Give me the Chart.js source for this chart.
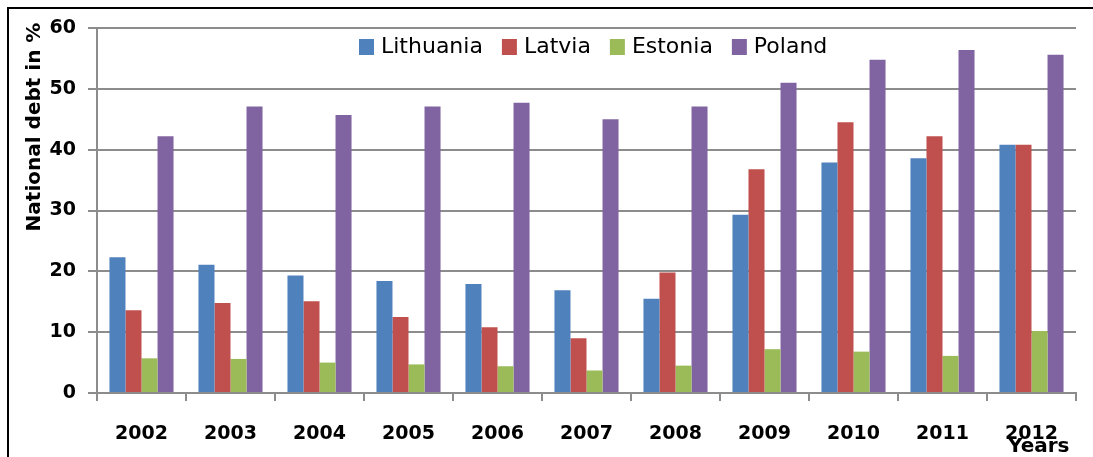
<!DOCTYPE html>
<html>
<head>
<meta charset="utf-8">
<script src="https://cdn.jsdelivr.net/npm/chart.js@4.4.0/dist/chart.umd.min.js"></script>
<style>
  html, body { margin: 0; padding: 0; background: #fff; }
  #wrap { width: 1093px; height: 457px; position: relative; }
</style>
</head>
<body>
<div id="wrap"><canvas id="chart"></canvas></div>
<script>
const years = ["2002", "2003", "2004", "2005", "2006", "2007", "2008", "2009", "2010", "2011", "2012"];
const lithuania = [22.3, 21.1, 19.3, 18.4, 17.9, 16.9, 15.5, 29.3, 37.9, 38.6, 40.8];
const latvia = [13.6, 14.8, 15.1, 12.5, 10.8, 9.0, 19.8, 36.8, 44.5, 42.2, 40.8];
const estonia = [5.7, 5.6, 5.0, 4.7, 4.4, 3.7, 4.5, 7.2, 6.8, 6.1, 10.2];
const poland = [42.2, 47.1, 45.7, 47.1, 47.7, 45.0, 47.1, 51.0, 54.8, 56.4, 55.6];
const yMin = 0, yMax = 60, yStep = 10;

const GRID = "#8c8c8c";

// frame, axis title, "Years" and the legend drawn inside the plot area
const decorations = {
  id: "decorations",
  afterDraw(chart) {
    const ctx = chart.ctx;
    ctx.save();
    ctx.strokeStyle = "#000";
    ctx.lineWidth = 2;
    ctx.beginPath();
    ctx.moveTo(8, 457);
    ctx.lineTo(8, 8);
    ctx.lineTo(1093, 8);
    ctx.stroke();

    ctx.fillStyle = "#000";
    ctx.font = "bold 20px 'DejaVu Sans'";
    ctx.save();
    ctx.translate(40, 127);
    ctx.rotate(-Math.PI / 2);
    ctx.textAlign = "center";
    ctx.textBaseline = "alphabetic";
    ctx.fillText("National debt in %", 0, 0);
    ctx.restore();

    ctx.textAlign = "left";
    ctx.textBaseline = "alphabetic";
    ctx.fillText("Years", 1008, 452);

    // legend
    ctx.font = "22px 'DejaVu Sans'";
    ctx.textBaseline = "middle";
    let x = 359;
    chart.data.datasets.forEach(ds => {
      ctx.fillStyle = ds.backgroundColor;
      ctx.fillRect(x, 39, 15, 16);
      ctx.fillStyle = "#000";
      ctx.fillText(ds.label, x + 22, 47);
      x += 22 + ctx.measureText(ds.label).width + 19;
    });
    ctx.restore();
  }
};

new Chart(document.getElementById("chart"), {
  type: "bar",
  data: {
    labels: years,
    datasets: [
      { label: "Lithuania", data: lithuania, backgroundColor: "#4F81BD" },
      { label: "Latvia", data: latvia, backgroundColor: "#C0504D" },
      { label: "Estonia", data: estonia, backgroundColor: "#9BBB59" },
      { label: "Poland", data: poland, backgroundColor: "#8064A2" }
    ]
  },
  options: {
    responsive: true,
    maintainAspectRatio: false,
    animation: false,
    devicePixelRatio: 1,
    datasets: {
      bar: { barPercentage: 1, categoryPercentage: 0.72, borderWidth: 0 }
    },
    layout: { padding: { top: 28, right: 17, left: 0, bottom: 0 } },
    plugins: {
      legend: { display: false },
      tooltip: { enabled: false }
    },
    scales: {
      x: {
        grid: { drawOnChartArea: false, drawTicks: true, tickLength: 8, color: GRID, lineWidth: 2 },
        border: { color: GRID, width: 2 },
        ticks: {
          color: "#000",
          padding: 22,
          font: { family: "'DejaVu Sans'", size: 19, weight: "bold" },
          maxRotation: 0
        },
        afterFit(scale) { scale.height = 64; }
      },
      y: {
        min: yMin,
        max: yMax,
        grid: { color: GRID, lineWidth: 2, tickLength: 9 },
        border: { color: GRID, width: 2 },
        ticks: {
          stepSize: yStep,
          color: "#000",
          padding: 12,
          font: { family: "'DejaVu Sans'", size: 19, weight: "bold" }
        },
        afterFit(scale) { scale.width = 97; }
      }
    }
  },
  plugins: [decorations]
});
</script>
</body>
</html>
